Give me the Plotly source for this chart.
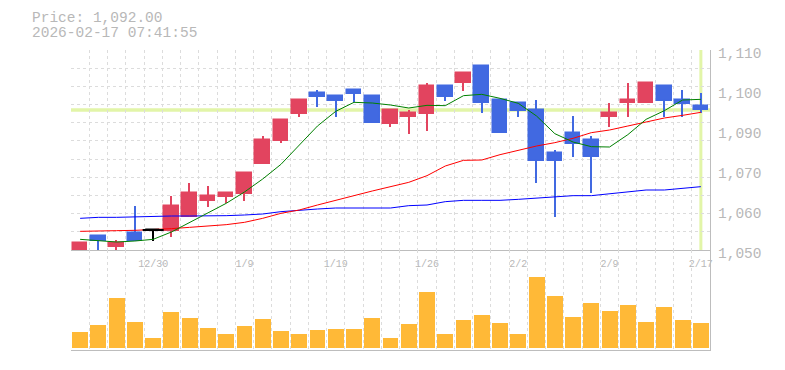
import plotly.graph_objects as go

# ---------------- data ----------------
dates = ["12/24", "12/25", "12/26", "12/29", "12/30", "1/5", "1/6", "1/7", "1/8", "1/9",
         "1/13", "1/14", "1/15", "1/16", "1/19", "1/20", "1/21", "1/22", "1/23", "1/26",
         "1/27", "1/28", "1/29", "1/30", "2/2", "2/3", "2/4", "2/5", "2/6", "2/9",
         "2/10", "2/12", "2/13", "2/16", "2/17"]

opens = [1050.0, 1054.2, 1050.9, 1055.2, 1056.0, 1055.8, 1060.0, 1064.7, 1066.0, 1066.9,
         1075.8, 1082.8, 1090.8, 1097.2, 1096.2, 1098.0, 1096.2, 1087.8, 1090.0, 1090.8,
         1099.2, 1100.0, 1105.3, 1095.0, 1094.2, 1092.0, 1079.0, 1085.2, 1083.0, 1090.0,
         1094.0, 1094.0, 1099.2, 1095.0, 1093.2]
highs = [1052.2, 1054.2, 1053.0, 1063.3, 1056.0, 1066.2, 1070.2, 1069.3, 1067.2, 1073.1,
         1084.2, 1089.0, 1095.0, 1098.0, 1096.2, 1098.0, 1096.2, 1092.0, 1092.0, 1100.2,
         1099.2, 1103.2, 1105.3, 1095.0, 1094.2, 1095.0, 1080.0, 1090.2, 1084.2, 1094.2,
         1100.2, 1100.2, 1099.2, 1098.0, 1097.2]
lows = [1050.0, 1050.0, 1050.0, 1052.8, 1052.8, 1054.0, 1060.0, 1063.0, 1064.0, 1064.8,
        1075.8, 1082.0, 1090.0, 1093.0, 1090.0, 1094.5, 1088.0, 1087.0, 1084.8, 1085.8,
        1094.8, 1097.8, 1091.0, 1085.0, 1090.0, 1070.0, 1060.0, 1078.0, 1067.0, 1087.0,
        1090.0, 1094.0, 1090.0, 1090.0, 1091.0]
closes = [1052.2, 1052.8, 1052.0, 1052.8, 1056.0, 1063.2, 1067.1, 1066.3, 1067.2, 1073.1,
          1083.0, 1089.0, 1095.0, 1096.0, 1094.8, 1096.8, 1088.0, 1092.0, 1091.2, 1099.2,
          1096.0, 1103.2, 1094.0, 1085.0, 1091.8, 1076.8, 1076.8, 1081.8, 1078.0, 1091.2,
          1095.0, 1100.2, 1094.8, 1093.8, 1092.0]

ma_short = [1053.2, 1052.7, 1052.4, 1052.7, 1053.2, 1055.4, 1058.2, 1061.1, 1064.0, 1067.4,
            1071.3, 1075.7, 1081.5, 1087.2, 1091.6, 1094.3, 1094.1, 1093.5, 1092.6, 1093.4,
            1093.3, 1096.3, 1096.7, 1095.5, 1094.0, 1090.2, 1084.9, 1082.4, 1081.0, 1080.9,
            1084.6, 1089.2, 1091.8, 1095.0, 1095.2]
ma_mid = [1055.6, 1055.6, 1055.8, 1055.9, 1056.1, 1056.4, 1056.8, 1057.2, 1057.6, 1058.3,
          1059.5, 1061.0, 1062.0, 1063.5, 1065.0, 1066.3, 1067.7, 1069.1, 1070.3, 1072.3,
          1075.2, 1076.9, 1077.0, 1078.6, 1080.0, 1081.2, 1082.2, 1083.5, 1085.2, 1086.0,
          1087.2, 1088.5, 1089.6, 1090.4, 1091.3]
ma_long = [1059.5, 1059.8, 1059.8, 1060.0, 1060.0, 1060.2, 1060.2, 1060.2, 1060.3, 1060.5,
           1060.8, 1061.5, 1062.0, 1062.3, 1062.6, 1062.6, 1062.6, 1062.6, 1063.3, 1063.5,
           1064.5, 1064.9, 1064.9, 1064.9, 1065.2, 1065.5, 1065.8, 1066.3, 1066.3, 1066.8,
           1067.3, 1068.0, 1068.0, 1068.6, 1069.0]

volumes = [157, 227, 497, 257, 97, 357, 297, 197, 137, 217,
           287, 167, 137, 177, 187, 187, 297, 97, 237, 557,
           137, 277, 327, 247, 137, 707, 517, 307, 447, 367,
           427, 257, 407, 277, 247]

x_tick_labels = ["12/30", "1/9", "1/19", "1/26", "2/2", "2/9", "2/17"]
y_tick_vals = [1050, 1062, 1074, 1086, 1098, 1110]
y_tick_text = ["1,050", "1,060", "1,070", "1,090", "1,100", "1,110"]
timestamp = "2026-02-17 07:41:55"

# ---------------- styling ----------------
UP = "#E2445F"
DOWN = "#4169E1"
FLAT = "#000000"
VOL = "#FFB937"
GRID = "#dcdcdc"
AXIS = "#bdbdbd"
TXT = "#b8b8b8"
PRICE_LINE = "#e2f5a8"
MONO = "Liberation Mono"

x_idx = list(range(len(dates)))
colors = [UP if c > o else (DOWN if c < o else FLAT) for o, c in zip(opens, closes)]

fig = go.Figure()

# moving averages (beneath candles)
for ma, col in ((ma_long, "#0000ff"), (ma_mid, "#ff0000"), (ma_short, "#008000")):
    fig.add_trace(go.Scatter(x=x_idx, y=ma, mode="lines", line=dict(color=col, width=1),
                             xaxis="x", yaxis="y", hoverinfo="skip"))

# wicks
fig.add_trace(go.Bar(x=x_idx, base=lows, y=[h - l for h, l in zip(highs, lows)],
                     width=0.075, marker=dict(color=colors, line=dict(width=0)),
                     xaxis="x", yaxis="y", hoverinfo="skip"))
# bodies
fig.add_trace(go.Bar(x=x_idx, base=[min(o, c) for o, c in zip(opens, closes)],
                     y=[abs(c - o) for o, c in zip(opens, closes)],
                     width=0.8, marker=dict(color=colors, line=dict(color=colors, width=1.5)),
                     xaxis="x", yaxis="y", hoverinfo="skip"))
# doji bodies (open == close)
doji_x = [i for i, (o, c) in enumerate(zip(opens, closes)) if o == c]
fig.add_trace(go.Scatter(x=doji_x, y=[closes[i] for i in doji_x], mode="markers",
                         marker=dict(symbol="line-ew", size=15, line=dict(color=FLAT, width=2)),
                         xaxis="x", yaxis="y", hoverinfo="skip"))

# volume
fig.add_trace(go.Bar(x=x_idx, y=volumes, width=0.87, marker=dict(color=VOL, line=dict(width=0)),
                     xaxis="x2", yaxis="y2", hoverinfo="skip"))

# a dummy invisible trace so yaxis3 (tick labels) is rendered
fig.add_trace(go.Scatter(x=[x_idx[0]], y=[closes[0]], mode="markers", marker=dict(opacity=0),
                         xaxis="x", yaxis="y3", hoverinfo="skip"))

# last-price cross hair
fig.add_shape(type="line", xref="x", x0=-0.5, x1=x_idx[-1] + 0.5, yref="y",
              y0=closes[-1], y1=closes[-1],
              line=dict(color=PRICE_LINE, width=3.5), layer="below")
fig.add_shape(type="line", xref="x", x0=x_idx[-1], x1=x_idx[-1], yref="y",
              y0=y_tick_vals[0], y1=y_tick_vals[-1],
              line=dict(color=PRICE_LINE, width=3), layer="below")

grid_minor = dict(tick0=-0.5, dtick=1, showgrid=True, gridcolor=GRID, gridwidth=1,
                  griddash="3px,3px", ticks="")

fig.update_layout(
    width=785, height=370,
    margin=dict(l=71, r=75, t=50, b=20, autoexpand=False),
    paper_bgcolor="white", plot_bgcolor="white",
    showlegend=False, barmode="overlay", bargap=0,
    font=dict(family=MONO, color=TXT),
    xaxis=dict(domain=[0, 1], anchor="y", range=[-0.5, 34.5], automargin=False,
               tickmode="array", tickvals=[dates.index(t) for t in x_tick_labels],
               ticktext=x_tick_labels, showgrid=False, zeroline=False, ticks="",
               showline=True, linecolor=AXIS, linewidth=1,
               tickfont=dict(family=MONO, size=10, color=TXT), ticklabelstandoff=4,
               minor=grid_minor),
    xaxis2=dict(domain=[0, 1], anchor="y2", matches="x", range=[-0.5, 34.5], automargin=False,
                showticklabels=False, showgrid=False, zeroline=False, ticks="",
                showline=True, linecolor=AXIS, linewidth=1, minor=grid_minor),
    yaxis=dict(domain=[1 / 3, 1], anchor="x", range=[1050, 1110], side="right", automargin=False,
               tick0=1050, dtick=60 / 11, showticklabels=False, ticks="",
               showgrid=True, gridcolor=GRID, gridwidth=1, griddash="3px,3px",
               zeroline=False, showline=True, linecolor=AXIS, linewidth=1),
    yaxis3=dict(overlaying="y", anchor="x", range=[1050, 1110], side="right", automargin=False,
                tickmode="array", tickvals=y_tick_vals, ticktext=y_tick_text,
                showgrid=False, zeroline=False, showline=False, ticks="",
                tickfont=dict(family=MONO, size=14.5, color=TXT),
                ticklabelstandoff=7, ticklabelshift=3),
    yaxis2=dict(domain=[0, 1 / 3], anchor="x2", range=[-23, 977], side="right", automargin=False,
                showticklabels=False, showgrid=False, zeroline=False, ticks="",
                showline=True, linecolor=AXIS, linewidth=1),
)

fig.add_annotation(text=f"Price: {closes[-1]:,.2f}", xref="paper", yref="paper",
                   x=-41 / 639, y=(350 - 18) / 300, xanchor="left", yanchor="middle",
                   showarrow=False, font=dict(family=MONO, size=14.5, color=TXT))
fig.add_annotation(text=timestamp, xref="paper", yref="paper",
                   x=-41 / 639, y=(350 - 33) / 300, xanchor="left", yanchor="middle",
                   showarrow=False, font=dict(family=MONO, size=14.5, color=TXT))

fig.write_html("out.html")
